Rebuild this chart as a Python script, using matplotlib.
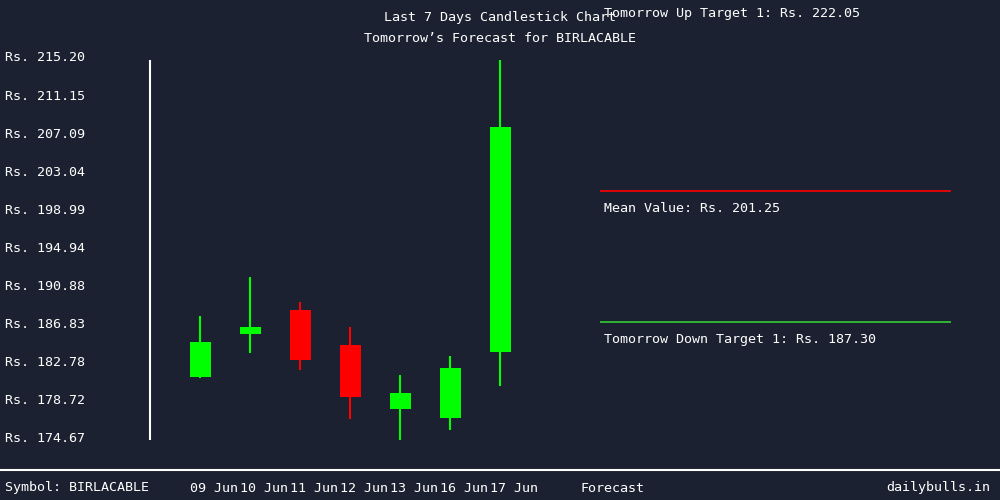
import matplotlib
matplotlib.use("Agg")
import matplotlib.pyplot as plt
import numpy as np

# last 7 sessions (OHLC)
dates = ['09 Jun', '10 Jun', '11 Jun', '12 Jun', '13 Jun', '16 Jun', '17 Jun']
opens = [181.43, 186.05, 188.57, 184.84, 178.06, 177.10, 184.13]
highs = [187.93, 192.09, 189.42, 186.76, 181.65, 183.67, 215.20]
lows = [181.36, 184.02, 182.21, 176.96, 174.67, 175.82, 180.51]
closes = [185.16, 186.76, 183.28, 179.34, 179.73, 182.39, 208.06]

symbol = 'BIRLACABLE'
up_target = 222.05
mean_value = 201.25
down_target = 187.30

bg = '#1b2130'
font = 'DejaVu Sans Mono'
fs = 9.6
plt.rcParams['font.family'] = font

fig = plt.figure(figsize=(10, 5), dpi=100, facecolor=bg)
ax = fig.add_axes([0, 0, 1, 1])
ax.set_facecolor(bg)
for s in ax.spines.values():
    s.set_visible(False)
ax.set_xticks([])
ax.set_yticks([])

# px scale: 215.20 at y=60, 174.67 at y=440.5
lo, hi = min(lows), max(highs)
ppu = 380.5 / (hi - lo)
ax.set_xlim(-4, 16)
ax.set_ylim(lo - 59.5 / ppu, hi + 60 / ppu)

x = np.arange(len(dates))
for i in range(len(dates)):
    c = '#00ff00' if closes[i] >= opens[i] else '#ff0000'
    ax.vlines(x[i], lows[i], highs[i], color=c, lw=1.5, zorder=2)
    ax.bar(x[i], abs(closes[i] - opens[i]), bottom=min(opens[i], closes[i]),
           width=0.42, color=c, zorder=3)

# y axis line and labels
ax.plot([-1, -1], [lo, hi], color='white', lw=1.5, solid_capstyle='butt')
ticks = np.linspace(lo, hi, 11)
for t in ticks:
    ax.annotate(f'Rs. {t:.2f}', (-3.9, t), xytext=(0, 2), textcoords='offset pixels',
                color='white', fontsize=fs, va='center', ha='left')

# forecast panel
levels = [(up_target, '#00ff00', 'Tomorrow Up Target 1'),
          (mean_value, '#ff0000', 'Mean Value'),
          (down_target, '#32cd32', 'Tomorrow Down Target 1')]
for val, col, name in levels:
    ax.hlines(val, 8, 15.02, color=col, lw=1.2)
    ax.annotate(f'{name}: Rs. {val:.2f}', (8.08, val), xytext=(0, -18),
                textcoords='offset pixels', color='white', fontsize=fs,
                va='center', ha='left', annotation_clip=False)

# titles
fig.text(0.5, 1 - 18 / 500, 'Last 7 Days Candlestick Chart', color='white',
         fontsize=fs, ha='center', va='center')
fig.text(0.5, 1 - 38 / 500, f'Tomorrow\u2019s Forecast for {symbol}', color='white',
         fontsize=fs, ha='center', va='center')

# footer
ax.plot([0, 1], [0.06, 0.06], transform=ax.transAxes, color='white', lw=1.5)
fy = 1 - 488 / 500
tr = ax.get_xaxis_transform()
ax.text(-3.9, fy, f'Symbol: {symbol}', transform=tr, color='white', fontsize=fs, va='center')
for i, d in enumerate(dates):
    ax.text(x[i] - 0.2, fy, d, transform=tr, color='white', fontsize=fs, va='center', ha='left')
ax.text(7.6, fy, 'Forecast', transform=tr, color='white', fontsize=fs, va='center')
ax.text(15.8, fy, 'dailybulls.in', transform=tr, color='white', fontsize=fs, va='center', ha='right')

fig.savefig('out.png', dpi=100, facecolor=bg)
